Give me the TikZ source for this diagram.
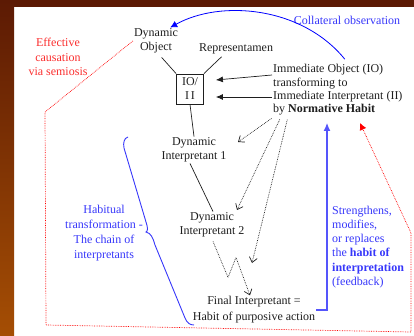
\documentclass[tikz,border=0pt]{standalone}
\usepackage{fontspec}
\setmainfont{Liberation Serif}
\usetikzlibrary{arrows.meta}

\definecolor{frametop}{RGB}{92,26,4}
\definecolor{framebot}{RGB}{165,78,4}
\definecolor{semred}{RGB}{250,45,45}
\definecolor{semblue}{RGB}{55,55,250}
\definecolor{inkgray}{RGB}{30,30,30}

\begin{document}
\begin{tikzpicture}[x=1pt,y=-1pt,
        every node/.style={font=\fontsize{12}{14}\selectfont, text=inkgray, align=center, inner sep=1pt},
        plain/.style={draw=inkgray, line width=0.7pt},
        fat/.style={draw=inkgray, line width=0.7pt, -{Latex[length=7pt,width=6pt]}},
        dots/.style={draw=inkgray, densely dotted, line width=0.7pt, -{Straight Barb[length=5pt,width=8pt]}},
        reddots/.style={draw=red, densely dotted, line width=0.7pt, -{Latex[length=7pt,width=7pt]}}]
        % frame
        \fill [fill=frametop](0,0) rectangle (414,7);
        \shade [top color=frametop, bottom color=framebot](0,0) rectangle (14,336);
        \useasboundingbox (0,0) rectangle (414,336);

        \node (dynobj) at (156,41) {Dynamic\\Object};
        \node (repr) at (236,49) {Representamen};
        \node[draw=inkgray, line width=0.8pt, minimum width=27pt, minimum height=30pt, inner sep=0pt] (box) at (190,89) {IO/\\I\,I};
        \node[anchor=west, align=left, font=\fontsize{12}{13.4}\selectfont] (io) at (272,90) {Immediate Object (IO)\\transforming to\\Immediate Interpretant (II)\\by \textbf{Normative Habit}};
        \node (di1) at (194,150) {Dynamic\\Interpretant 1};
        \node (di2) at (212,225) {Dynamic\\Interpretant 2};
        \node[font=\fontsize{12}{16}\selectfont] (final) at (254,310) {Final Interpretant =\\Habit of purposive action};

        \node[text=semblue] (collat) at (347,20) {Collateral observation};
        \node[text=semred, font=\fontsize{12}{14.5}\selectfont] (effect) at (58,57) {Effective\\causation\\via semiosis};
        \node[text=semblue, font=\fontsize{12}{15}\selectfont] (habitual) at (104,233) {Habitual\\transformation -\\The chain of\\interpretants};
        \node[text=semblue, anchor=west, align=left, font=\fontsize{12}{14.2}\selectfont] (feed) at (331,247) {Strengthens,\\modifies,\\or replaces\\the \textbf{habit of}\\\textbf{interpretation}\\(feedback)};

        \coordinate (tip1) at (238,142);
        \coordinate (tip2) at (237,210);
        \coordinate (tip3) at (252,263);
        \coordinate (nhblue) at (327,123);
        \coordinate (nhred) at (360,123);

        \draw[plain, shorten <=4pt] ([xshift=3pt]dynobj.south) -- (box.north west);
        \draw[plain, shorten <=2pt] ([xshift=-13pt]repr.south) -- (box.north east);
        \draw[plain] (box.south) -- (di1.north);
        \draw[plain] ([xshift=-4pt]di1.south) -- ([xshift=1pt]di2.north);

        \draw[fat] ([yshift=15pt]io.west) -- ([xshift=12pt,yshift=9pt]box.east);
        \draw[fat] ([yshift=-7pt]io.west) -- ([xshift=12pt,yshift=-8pt]box.east);

        \draw[dots, shorten <=3pt] ([xshift=2pt]io.south west) -- (tip1);
        \draw[dots, shorten <=3pt] ([xshift=9pt]io.south west) -- (tip2);
        \draw[dots, shorten <=3pt] ([xshift=16pt]io.south west) -- (tip3);
        \draw[dots] ([xshift=1pt,yshift=-3pt]di2.south) -- ++(15,36) -- ++(8,-20) -- ([xshift=-4pt]final.north);

        % feedback and collateral observation
        \draw[draw=semblue!85!white, line width=1.2pt, -{Latex[length=8pt,width=7pt]}] (final.east) -| (nhblue);
        \draw[draw=blue, line width=0.8pt, -{Latex[length=7pt,width=7pt]}] ([xshift=7pt,yshift=4pt]io.north) .. controls +(-43,-53) and +(50,-28) .. ([xshift=-9pt]dynobj.north east);

        % effective causation
        \draw[reddots] (dynobj.west) -- (45,112) -- (46,325) -- (411,332) -- (411,233) -- (nhred);

        % brace of the chain
        \draw[semblue, line width=0.9pt] (128,137) .. controls (124,138) and (123,143) .. (124,148) -- (146,222)
            .. controls (148,228) and (148,231) .. (146,232) .. controls (151,233) and (153,238) .. (155,245)
            -- (185,318) .. controls (187,323) and (190,325) .. (194,325);
\end{tikzpicture}
\end{document}
